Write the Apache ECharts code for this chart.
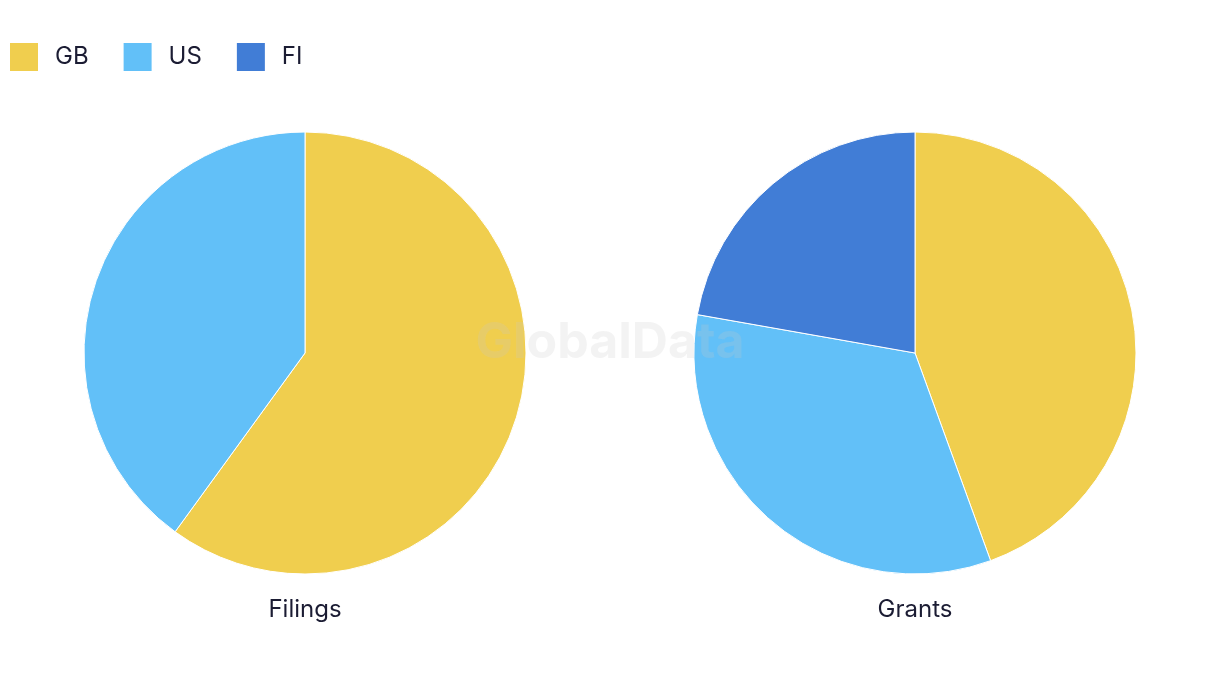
<!DOCTYPE html>
<html>
<head>
<meta charset="utf-8">
<script src="https://cdn.jsdelivr.net/npm/echarts@6/dist/echarts.min.js"></script>
<style>
html,body{margin:0;padding:0;background:#fff;}
#chart{width:1220px;height:686px;}
</style>
</head>
<body>
<div id="chart"></div>
<script>
const categories = ['GB', 'US', 'FI'];
const colors = ['#F0CE4E', '#62C0F8', '#417DD6'];
const filingsValues = [3, 2, 0];
const grantsValues = [4, 3, 2];
const pieTitles = ['Filings', 'Grants'];

const chart = echarts.init(document.getElementById('chart'));
const fontFamily = 'Inter, "Noto Sans", sans-serif';
const textColor = '#1b1c33';

function toData(vals) {
  return categories.map((c, i) => ({ name: c, value: vals[i] })).filter(d => d.value > 0);
}

const option = {
  animation: false,
  color: colors,
  legend: {
    data: categories,
    left: 10,
    top: 43,
    padding: 0,
    itemWidth: 28,
    itemHeight: 28,
    itemGap: 35,
    icon: 'rect',
    itemStyle: { borderWidth: 0 },
    textStyle: { fontFamily, fontSize: 24, color: textColor, padding: [2, 0, 0, 12] }
  },
  title: [
    { text: pieTitles[0], left: 305, top: 598, textAlign: 'center', padding: 0,
      textStyle: { fontFamily, fontSize: 24, fontWeight: 'normal', color: textColor } },
    { text: pieTitles[1], left: 915, top: 598, textAlign: 'center', padding: 0,
      textStyle: { fontFamily, fontSize: 24, fontWeight: 'normal', color: textColor } }
  ],
  graphic: [{
    type: 'text', left: 'center', top: 318, z: 100,
    style: { text: 'GlobalData', font: 'bold 50px ' + fontFamily, fill: 'rgba(200,200,200,0.22)' }
  }],
  series: [
    {
      type: 'pie', center: [305, 353], radius: [0, 221], startAngle: 90, clockwise: true,
      label: { show: false }, labelLine: { show: false },
      itemStyle: { borderColor: '#fff', borderWidth: 1 },
      emphasis: { disabled: true },
      data: toData(filingsValues)
    },
    {
      type: 'pie', center: [915, 353], radius: [0, 221], startAngle: 90, clockwise: true,
      label: { show: false }, labelLine: { show: false },
      itemStyle: { borderColor: '#fff', borderWidth: 1 },
      emphasis: { disabled: true },
      data: toData(grantsValues)
    }
  ]
};
chart.setOption(option);
</script>
</body>
</html>
